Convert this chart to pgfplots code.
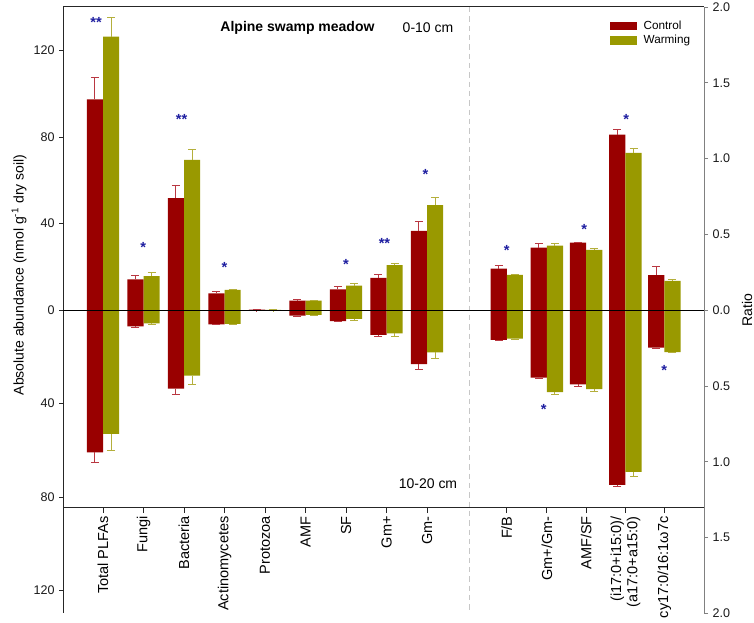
\documentclass[border=0pt]{standalone}
\usepackage{fontspec}
\setmainfont{Liberation Sans}
\usepackage{pgfplots}
\usepackage{pgfplotstable}
\pgfplotsset{compat=1.18}
\definecolor{ctrl}{RGB}{153,0,0}
\definecolor{warm}{RGB}{153,153,0}
\definecolor{ctrlerr}{RGB}{185,55,65}
\definecolor{warmerr}{RGB}{180,175,60}
\definecolor{starc}{RGB}{30,30,160}

% 0-10 cm, absolute abundance
\pgfplotstableread{
x     c      ce    w      we
1     97.4   10.1  126.3  8.9
2     14.3   1.9   15.8   1.6
3     51.8   5.7   69.4   4.6
4     7.8    0.8   9.4    0.4
5     0.3    0.1   0.2    0.1
6     4.4    0.5   4.4    0.3
7     9.7    1.4   11.4   1.1
8     15.0   1.4   20.8   1.0
9     36.7   4.5   48.5   3.6
}\topabs
% 10-20 cm, absolute abundance
\pgfplotstableread{
x     c      ce    w      we
1     60.9   4.5   53.0   7.0
2     6.9    0.3   5.6    0.4
3     33.6   2.7   28.0   3.7
4     6.0    0.3   5.8    0.5
5     0.1    0.05  0.1    0.05
6     2.3    0.2   2.0    0.2
7     4.6    0.3   3.7    0.5
8     10.6   0.7   9.9    1.4
9     23.1   2.2   18.0   2.7
}\botabs
% 0-10 cm, ratios
\pgfplotstableread{
x      c      ce     w      we
10.97  0.275  0.019  0.233  0.005
11.96  0.413  0.029  0.426  0.014
12.93  0.446  0.004  0.398  0.007
13.90  1.159  0.036  1.038  0.031
14.86  0.231  0.057  0.193  0.012
}\topratio
% 10-20 cm, ratios
\pgfplotstableread{
x      c      ce     w      we
10.97  0.196  0.004  0.187  0.003
11.96  0.445  0.008  0.541  0.014
12.93  0.489  0.015  0.520  0.013
13.90  1.153  0.007  1.067  0.033
14.86  0.247  0.004  0.277  0.004
}\botratio

\pgfplotsset{
  common/.style={
    scale only axis, width=480.5pt, xmin=0.02, xmax=15.84,
    axis line style={draw=none}, xtick=\empty,
    tick align=outside, major tick length=3pt,
    ybar, bar width=0.4,
    /pgf/number format/assume math mode=true,
    yticklabel style={font=\fontsize{9.4}{11}\selectfont, text=black!90},
    tick style={line width=0.6pt, black!85},
  },
  cbar/.style={fill=ctrl, draw=none, bar shift=-0.2,
    error bars/.cd, y dir=plus, y explicit,
    error bar style={ctrlerr, line width=0.75pt},
    error mark options={rotate=90, mark size=3pt, ctrlerr, line width=0.75pt}},
  wbar/.style={fill=warm, draw=none, bar shift=0.2,
    error bars/.cd, y dir=plus, y explicit,
    error bar style={warmerr, line width=0.75pt},
    error mark options={rotate=90, mark size=3pt, warmerr, line width=0.75pt}},
}
\tikzset{sig/.style={text=starc, font=\fontsize{11}{11}\selectfont\bfseries, anchor=base, yshift=-6.2pt, inner sep=0pt}}

\begin{document}
\begin{tikzpicture}
\useasboundingbox (0,0) rectangle (565.5pt,466.5pt);
% dashed separator
\draw[black!22, line width=0.75pt, dash pattern=on 4pt off 3pt] (351.75pt,461.25pt) -- (351.75pt,6.5pt);

% ---- 0-10 cm absolute (left, upper)
\begin{axis}[common, at={(47.5pt,233.8pt)}, anchor=south west, height=227.45pt,
  ymin=0, ymax=140, ytick={0,40,80,120}, ytick pos=left,
  legend style={at={(0.8533,0.964)}, anchor=north west, draw=none, fill=none,
    inner sep=0pt, font=\fontsize{8.8}{10}\selectfont, row sep=-1pt,
    /tikz/every odd column/.append style={column sep=3pt}},
  legend cell align=left,
  legend image code/.code={\fill[#1] (0pt,-3.1pt) rectangle (20pt,3.1pt);},
]
\addplot[cbar] table[x=x, y=c, y error=ce] {\topabs};
\addlegendentry{Control}
\addplot[wbar] table[x=x, y=w, y error=we] {\topabs};
\addlegendentry{Warming}
\node[sig] at (axis cs:0.83,134.3) {**};
\node[sig] at (axis cs:1.99,30.6) {*};
\node[sig] at (axis cs:2.94,89.7) {**};
\node[sig] at (axis cs:4.0,21.3) {*};
\node[sig] at (axis cs:7.0,22.7) {*};
\node[sig] at (axis cs:7.95,32.1) {**};
\node[sig] at (axis cs:8.96,64.0) {*};
\end{axis}

% ---- 10-20 cm absolute (left, lower)
\begin{axis}[common, at={(47.5pt,233.8pt)}, anchor=north west, height=227.3pt,
  y dir=reverse, ymin=0, ymax=129.9, ytick={40,80,120}, ytick pos=left]
\addplot[cbar] table[x=x, y=c, y error=ce] {\botabs};
\addplot[wbar] table[x=x, y=w, y error=we] {\botabs};
\end{axis}

% ---- 0-10 cm ratios (right, upper)
\begin{axis}[common, at={(47.5pt,233.8pt)}, anchor=south west, height=227.45pt,
  ymin=0, ymax=2, ytick={0,0.5,1,1.5,2}, ytick pos=right,
  tick style={gray},
  yticklabel style={/pgf/number format/.cd, fixed, fixed zerofill, precision=1}]
\addplot[cbar] table[x=x, y=c, y error=ce] {\topratio};
\addplot[wbar] table[x=x, y=w, y error=we] {\topratio};
\node[sig] at (axis cs:10.97,0.418) {*};
\node[sig] at (axis cs:12.88,0.552) {*};
\node[sig] at (axis cs:13.92,1.278) {*};
\end{axis}

% ---- 10-20 cm ratios (right, lower)
\begin{axis}[common, at={(47.5pt,233.8pt)}, anchor=north west, height=227.3pt,
  y dir=reverse, ymin=0, ymax=2, ytick={0.5,1,1.5,2}, ytick pos=right,
  tick style={gray},
  yticklabel style={/pgf/number format/.cd, fixed, fixed zerofill, precision=1}]
\addplot[cbar] table[x=x, y=c, y error=ce] {\botratio};
\addplot[wbar] table[x=x, y=w, y error=we] {\botratio};
\node[sig] at (axis cs:11.88,0.632) {*};
\node[sig] at (axis cs:14.86,0.379) {*};
\end{axis}

% ---- category axis
\begin{axis}[scale only axis, width=480.5pt, height=148.3pt,
  at={(47.5pt,85.5pt)}, anchor=south west,
  xmin=0.02, xmax=15.84, ymin=0, ymax=1,
  axis line style={draw=none}, ytick=\empty,
  xtick={1,2,3,4,5,6,7,8,9,10.97,11.96,12.93,13.9,14.86},
  xticklabels={Total PLFAs, Fungi, Bacteria, Actinomycetes, Protozoa, AMF, SF, Gm+, Gm-,
    F/B, Gm+/Gm-, AMF/SF, {(i17:0+i15:0)/\\(a17:0+a15:0)}, cy17:0/16:1ω7c},
  xtick pos=bottom, tick align=outside, major tick length=3.75pt,
  tick style={line width=0.6pt, black!85},
  xticklabel style={rotate=90, anchor=east, align=right,
    font=\fontsize{10.9}{12.2}\selectfont, inner sep=2.3pt},
]
\addplot[draw=none] coordinates {(1,0.5)};
\end{axis}

% frame
\draw[line width=0.75pt, black!85] (47.5pt,461.25pt) -- (528pt,461.25pt);
\draw[line width=0.75pt, black!85] (47.5pt,461.25pt) -- (47.5pt,6.5pt);
\draw[line width=0.75pt, gray] (528pt,461.25pt) -- (528pt,6.5pt);
\draw[line width=0.75pt, black] (47.5pt,233.8pt) -- (528pt,233.8pt);
\draw[line width=0.75pt, black!85] (47.5pt,85.5pt) -- (528pt,85.5pt);

% texts
\node[font=\fontsize{10.5}{12}\selectfont\bfseries] at (223.1pt,445.5pt) {Alpine swamp meadow};
\node[font=\fontsize{10.5}{12}\selectfont] at (321pt,445.5pt) {0-10 cm};
\node[font=\fontsize{10.5}{12}\selectfont] at (321pt,103.5pt) {10-20 cm};
\node[rotate=90, font=\fontsize{10.5}{12}\selectfont] at (14.25pt,260.25pt) {Absolute abundance (nmol g\textsuperscript{-1} dry soil)};
\node[rotate=90, font=\fontsize{10.5}{12}\selectfont] at (560.25pt,234pt) {Ratio};
\end{tikzpicture}
\end{document}
